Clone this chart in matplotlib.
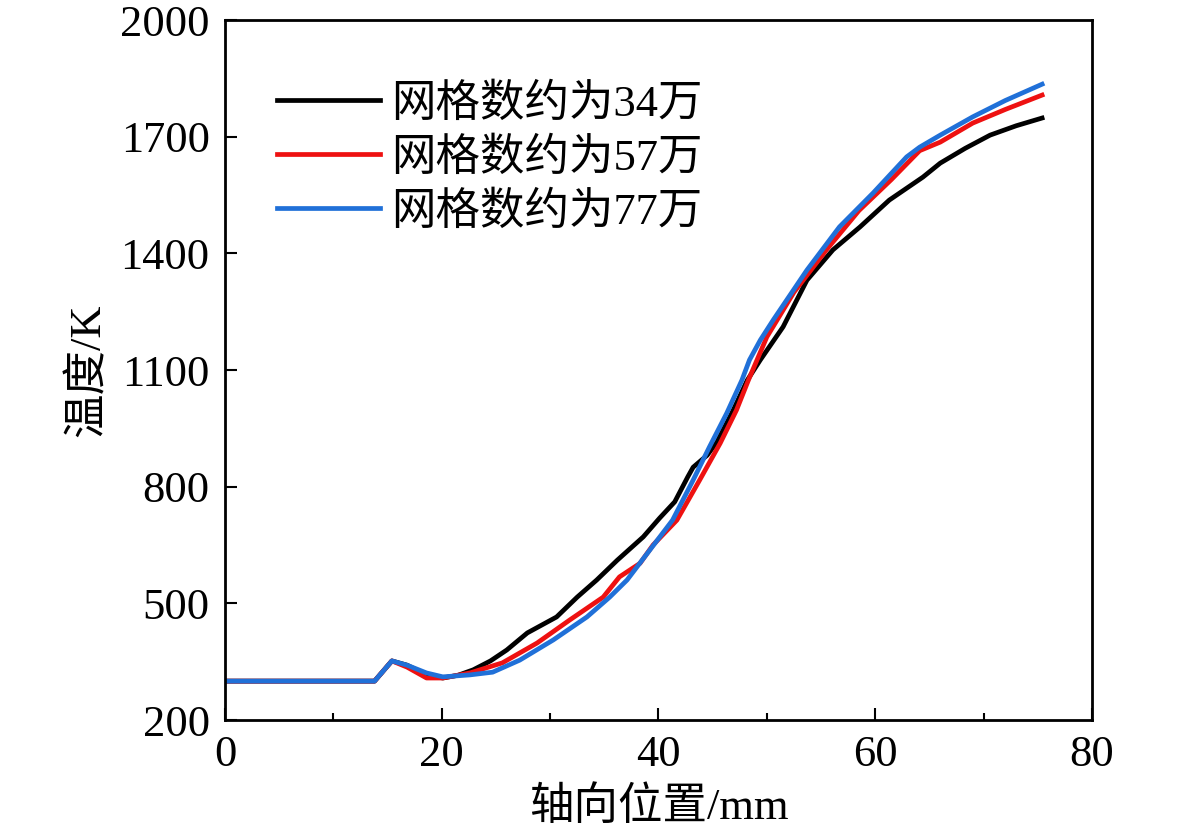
import matplotlib
matplotlib.use("Agg")
import matplotlib.pyplot as plt
from matplotlib.ticker import MultipleLocator

plt.rcParams['font.family'] = ['Liberation Serif', 'Noto Sans CJK SC']

# black: ~340k cells
x_34 = [0, 13.8, 15.4, 16.8, 18.6, 20.1, 21.5, 22.9, 24.5, 26.0, 27.9, 30.6, 32.5, 34.3,
        36.2, 38.6, 40.1, 41.5, 42.7, 43.2, 44.5, 45.4, 46.9, 48.2, 49.4, 51.5, 53.7,
        56.1, 58.6, 61.3, 64.4, 66.0, 68.3, 70.6, 73.0, 75.4]
t_34 = [300, 300, 352, 341, 316, 308, 315, 329, 352, 380, 424, 465, 516, 560,
        611, 671, 719, 761, 825, 850, 881, 915, 997, 1074, 1126, 1211, 1331,
        1409, 1468, 1537, 1596, 1632, 1670, 1704, 1728, 1748]

# red: ~570k cells
x_57 = [0, 13.8, 15.4, 16.8, 18.6, 20.1, 22.6, 25.6, 28.8, 31.8, 34.9, 36.4, 38.3, 39.5,
        41.7, 43.8, 45.7, 47.2, 48.3, 50.0, 52.5, 55.5, 58.5, 61.5, 64.1, 66.0, 69.0,
        72.0, 75.4]
t_57 = [300, 300, 352, 336, 308, 308, 321, 347, 398, 457, 516, 568, 603, 650,
        714, 817, 912, 997, 1074, 1185, 1300, 1409, 1510, 1590, 1664, 1686, 1735,
        1770, 1807]

# blue: ~770k cells
x_77 = [0, 13.8, 15.4, 16.8, 18.6, 20.1, 22.6, 24.7, 27.2, 30.3, 33.4, 35.5, 37.1, 39.2,
        41.3, 43.2, 44.7, 46.3, 47.7, 48.4, 49.4, 50.6, 53.7, 56.7, 59.8, 62.9, 64.1,
        66.0, 69.0, 72.0, 75.4]
t_77 = [300, 300, 352, 341, 321, 311, 316, 323, 354, 406, 465, 516, 560, 637,
        714, 817, 902, 989, 1074, 1126, 1177, 1229, 1357, 1468, 1555, 1648, 1673,
        1704, 1751, 1793, 1835]

labels = ['网格数约为34万', '网格数约为57万', '网格数约为77万']
y_ticks = [200, 500, 800, 1100, 1400, 1700, 2000]

fig = plt.figure(figsize=(11.81, 8.38), dpi=100)
ax = fig.add_axes([0.1905, 0.1408, 0.7341, 0.8353])

ax.plot(x_34, t_34, color='black', lw=3.4, label=labels[0])
ax.plot(x_57, t_57, color='#ee1111', lw=3.4, label=labels[1])
ax.plot(x_77, t_77, color='#2070d8', lw=3.4, label=labels[2])

ax.set_xlim(0, 80)
ax.set_ylim(200, 2000)
ax.xaxis.set_major_locator(MultipleLocator(20))
ax.xaxis.set_minor_locator(MultipleLocator(10))
ax.set_yticks(y_ticks)
ax.tick_params(which='major', direction='in', length=8.5, width=1.5, labelsize=32, pad=11)
ax.tick_params(which='minor', direction='in', length=5, width=1.5)
ax.tick_params(axis='y', which='minor', left=False)
for s in ax.spines.values():
    s.set_linewidth(2)

ax.set_xlabel('轴向位置/mm', fontsize=32, labelpad=8)
ax.set_ylabel('温度/K', fontsize=32, labelpad=8)

ax.legend(loc='upper left', bbox_to_anchor=(0.04, 0.935), frameon=False, fontsize=32,
          handlelength=2.3, handletextpad=0.25, labelspacing=0.28, borderaxespad=0)

fig.savefig('out.png', dpi=100)
